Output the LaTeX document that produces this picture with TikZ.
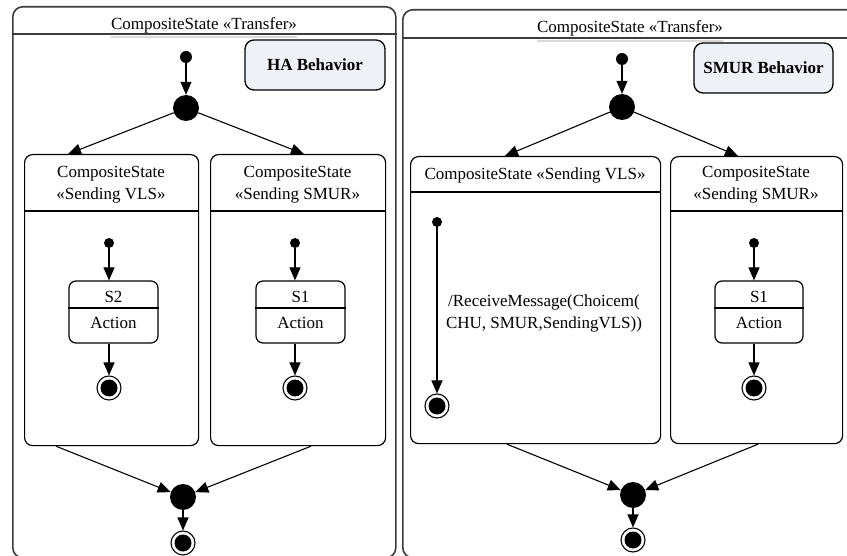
\documentclass[tikz,border=0pt]{standalone}
\usepackage{fontspec}
\setmainfont{Liberation Serif}
\usetikzlibrary{arrows.meta}
\definecolor{behfill}{HTML}{EEF1F6}
\definecolor{edge}{HTML}{3C3C3C}
\begin{document}
\begin{tikzpicture}[x=1pt,y=-1pt,font=\fontsize{17}{22}\selectfont]
\tikzstyle{every node}=[inner sep=0pt]
\tikzstyle{panel}=[draw=edge, line width=1.6pt, rounded corners=10pt, anchor=north west]
\tikzstyle{region}=[draw, line width=1.2pt, rounded corners=8pt, anchor=north west]
\tikzstyle{simple}=[draw, line width=1.2pt, rounded corners=7pt, minimum width=89pt, minimum height=62pt]
\tikzstyle{behavior}=[draw, line width=1.3pt, fill=behfill, rounded corners=9pt, minimum height=50pt, font=\fontsize{17}{22}\selectfont\bfseries]
\tikzstyle{start}=[circle, fill, minimum size=10pt]
\tikzstyle{bar}=[circle, fill, minimum size=26pt]
\tikzstyle{stop}=[circle, draw, line width=1.1pt, minimum size=24pt, path picture={\fill (path picture bounding box.center) circle (8.5pt);}]
\tikzstyle{trans}=[line width=1.1pt, -{Triangle[length=13pt,width=11pt]}]
\tikzstyle{divider}=[line width=1.2pt]
\tikzstyle{underline}=[gray!30, line width=1.4pt]
\useasboundingbox (0,0) rectangle (847,556);
\clip (0,0) rectangle (847,556);

% HA behavior
\node[panel, minimum width=383pt, minimum height=551pt] (haPanel) at (12,6) {};
\node[anchor=base] (haTitle) at (204,30) {CompositeState «Transfer»};
\draw[edge, line width=1.6pt] (haPanel.west |- 0,34) -- (haPanel.east |- 0,34);
\draw[underline] (haTitle.west |- 0,37) -- (haTitle.east |- 0,37);
\node[behavior, minimum width=140pt] (haBeh) at (315,65) {HA Behavior};
\node[start, minimum size=12pt] (haInit) at (186,57) {};
\node[bar] (haFork) at (186,108) {};
\draw[trans] (haInit) -- (haFork);

\node[region, minimum width=174pt, minimum height=291pt] (haVls) at (24,154) {};
\node[align=center] (haVlsTitle) at (111,185) {CompositeState\\«Sending VLS»};
\draw[divider] (haVls.west |- 0,211) -- (haVls.east |- 0,211);
\node[region, minimum width=175pt, minimum height=291pt] (haSmur) at (210,154) {};
\node[align=center] (haSmurTitle) at (297.5,185) {CompositeState\\«Sending SMUR»};
\draw[divider] (haSmur.west |- 0,211) -- (haSmur.east |- 0,211);
\draw[trans] (haFork) -- ([xshift=44pt]haVls.north west);
\draw[trans] (haFork) -- ([xshift=94pt]haSmur.north west);

\node[start] (haVlsInit) at (109,243) {};
\node[simple] (haS2) at (113.5,312) {};
\draw[divider] (haS2.west |- 0,308) -- (haS2.east |- 0,308);
\node[anchor=base] (haS2Name) at (113.5,303) {S2};
\node[anchor=base] (haS2Act) at (113.5,329) {Action};
\node[stop] (haVlsEnd) at (109,388) {};
\draw[trans] (haVlsInit) -- (haVlsInit |- haS2.north);
\draw[trans] (haVlsInit |- haS2.south) -- (haVlsEnd);

\node[start] (haSmurInit) at (295,243) {};
\node[simple] (haS1) at (300.5,312) {};
\draw[divider] (haS1.west |- 0,308) -- (haS1.east |- 0,308);
\node[anchor=base] (haS1Name) at (300.5,303) {S1};
\node[anchor=base] (haS1Act) at (300.5,329) {Action};
\node[stop] (haSmurEnd) at (295,388) {};
\draw[trans] (haSmurInit) -- (haSmurInit |- haS1.north);
\draw[trans] (haSmurInit |- haS1.south) -- (haSmurEnd);

\node[bar] (haJoin) at (183,497) {};
\node[stop] (haEnd) at (183,543) {};
\draw[trans] ([xshift=32pt]haVls.south west) -- (haJoin);
\draw[trans] ([xshift=101pt]haSmur.south west) -- (haJoin);
\draw[trans] (haJoin) -- (haEnd);

% SMUR behavior
\node[panel, minimum width=456pt, minimum height=548pt] (smurPanel) at (402,9) {};
\node[anchor=base] (smurTitle) at (630,33) {CompositeState «Transfer»};
\draw[edge, line width=1.6pt] (smurPanel.west |- 0,38) -- (smurPanel.east |- 0,38);
\draw[underline] (smurTitle.west |- 0,41) -- (smurTitle.east |- 0,41);
\node[behavior, minimum width=139pt] (smurBeh) at (763.5,68) {SMUR Behavior};
\node[start, minimum size=12pt] (smurInit) at (622,59) {};
\node[bar] (smurFork) at (622,107) {};
\draw[trans] (smurInit) -- (smurFork);

\node[region, minimum width=250pt, minimum height=287pt] (smurVls) at (410,156) {};
\node[anchor=base] (smurVlsTitle) at (535,180) {CompositeState «Sending VLS»};
\draw[divider] (smurVls.west |- 0,192) -- (smurVls.east |- 0,192);
\node[region, minimum width=172pt, minimum height=287pt] (smurSmur) at (670,156) {};
\node[align=center] (smurSmurTitle) at (756,185) {CompositeState\\«Sending SMUR»};
\draw[divider] (smurSmur.west |- 0,211) -- (smurSmur.east |- 0,211);
\draw[trans] (smurFork) -- ([xshift=95pt]smurVls.north west);
\draw[trans] (smurFork) -- ([xshift=68pt]smurSmur.north west);

\node[start] (smurVlsInit) at (437,222) {};
\node[stop] (smurVlsEnd) at (437,406) {};
\draw[trans] (smurVlsInit) -- (smurVlsEnd);
\node[align=center] (smurMsg) at (544,313) {/ReceiveMessage(Choicem(\\CHU, SMUR,SendingVLS))};

\node[start] (smurSmurInit) at (754,243) {};
\node[simple, minimum width=88pt] (smurS1) at (759,312) {};
\draw[divider] (smurS1.west |- 0,308) -- (smurS1.east |- 0,308);
\node[anchor=base] (smurS1Name) at (759,303) {S1};
\node[anchor=base] (smurS1Act) at (759,329) {Action};
\node[stop] (smurSmurEnd) at (754,388) {};
\draw[trans] (smurSmurInit) -- (smurSmurInit |- smurS1.north);
\draw[trans] (smurSmurInit |- smurS1.south) -- (smurSmurEnd);

\node[bar] (smurJoin) at (633,495) {};
\node[stop] (smurEnd) at (633,540) {};
\draw[trans] ([xshift=97pt]smurVls.south west) -- (smurJoin);
\draw[trans] ([xshift=88pt]smurSmur.south west) -- (smurJoin);
\draw[trans] (smurJoin) -- (smurEnd);
\end{tikzpicture}
\end{document}
